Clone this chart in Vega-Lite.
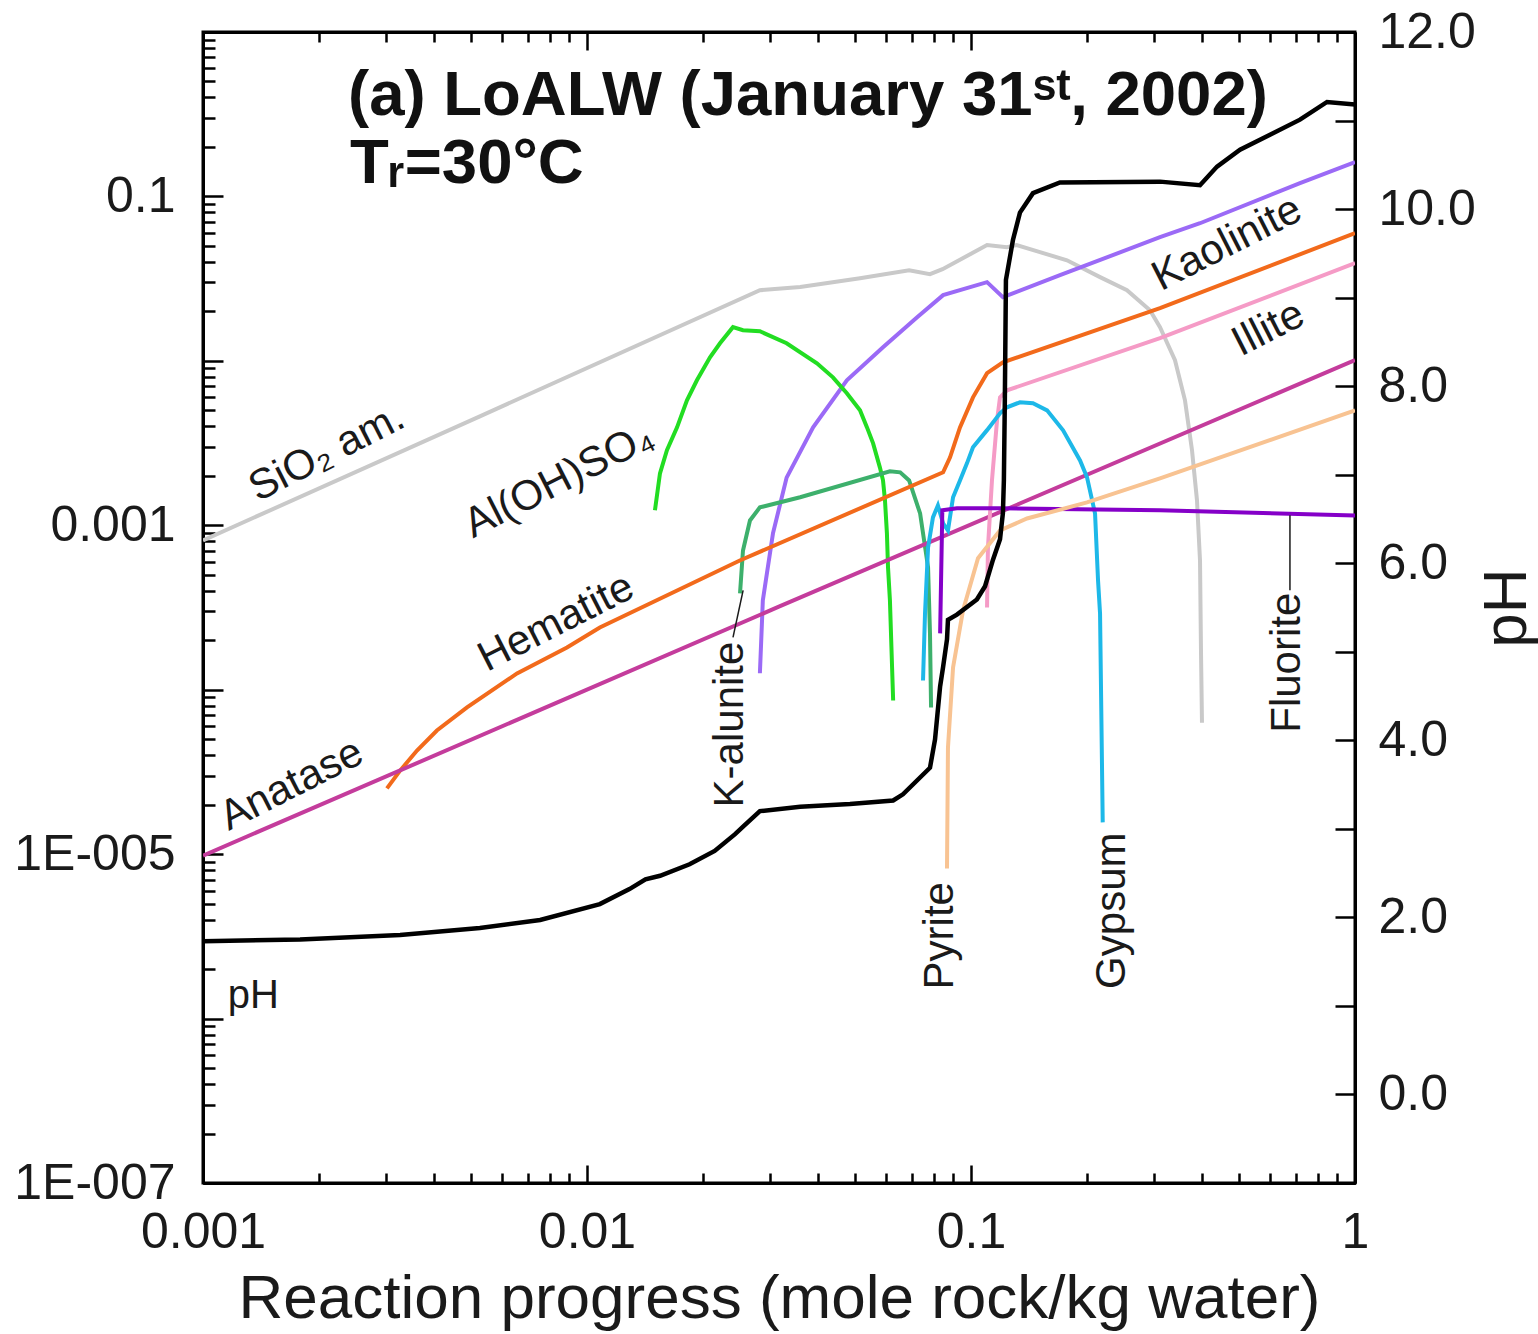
{
  "$schema": "https://vega.github.io/schema/vega-lite/v6.json",
  "width": 1152,
  "height": 1151,
  "autosize": {"type": "none"},
  "padding": {"left": 203, "top": 32, "right": 183, "bottom": 151},
  "background": "white",
  "config": {
    "view": {"stroke": "black", "strokeWidth": 3},
    "axis": {
      "grid": false,
      "domainColor": "black",
      "domainWidth": 3,
      "tickColor": "black",
      "tickWidth": 2.5,
      "labelFont": "Liberation Sans",
      "labelFontSize": 50,
      "labelColor": "#1a1a1a",
      "titleFont": "Liberation Sans",
      "titleFontSize": 62,
      "titleFontWeight": "normal",
      "titleColor": "#1a1a1a"
    },
    "text": {"font": "Liberation Sans", "color": "#1a1a1a"}
  },
  "datasets": {
    "minerals": [
      {"mineral": "SiO2 am.", "i": 0, "x": 0.001, "y": 0.000809},
      {"mineral": "SiO2 am.", "i": 1, "x": 0.00526, "y": 0.0046},
      {"mineral": "SiO2 am.", "i": 2, "x": 0.0282, "y": 0.0269},
      {"mineral": "SiO2 am.", "i": 3, "x": 0.0359, "y": 0.0281},
      {"mineral": "SiO2 am.", "i": 4, "x": 0.0514, "y": 0.0318},
      {"mineral": "SiO2 am.", "i": 5, "x": 0.069, "y": 0.0356},
      {"mineral": "SiO2 am.", "i": 6, "x": 0.0782, "y": 0.0337},
      {"mineral": "SiO2 am.", "i": 7, "x": 0.0843, "y": 0.0361},
      {"mineral": "SiO2 am.", "i": 8, "x": 0.1101, "y": 0.0506},
      {"mineral": "SiO2 am.", "i": 9, "x": 0.1241, "y": 0.0491},
      {"mineral": "SiO2 am.", "i": 10, "x": 0.1315, "y": 0.0506},
      {"mineral": "SiO2 am.", "i": 11, "x": 0.1512, "y": 0.0458},
      {"mineral": "SiO2 am.", "i": 12, "x": 0.1778, "y": 0.0409},
      {"mineral": "SiO2 am.", "i": 13, "x": 0.2168, "y": 0.0323},
      {"mineral": "SiO2 am.", "i": 14, "x": 0.2548, "y": 0.0269},
      {"mineral": "SiO2 am.", "i": 15, "x": 0.2925, "y": 0.0203},
      {"mineral": "SiO2 am.", "i": 16, "x": 0.3106, "y": 0.016},
      {"mineral": "SiO2 am.", "i": 17, "x": 0.3398, "y": 0.0101},
      {"mineral": "SiO2 am.", "i": 18, "x": 0.3608, "y": 0.00575},
      {"mineral": "SiO2 am.", "i": 19, "x": 0.3763, "y": 0.00286},
      {"mineral": "SiO2 am.", "i": 20, "x": 0.3877, "y": 0.00142},
      {"mineral": "SiO2 am.", "i": 21, "x": 0.3948, "y": 0.000611},
      {"mineral": "SiO2 am.", "i": 22, "x": 0.3971, "y": 0.000173},
      {"mineral": "SiO2 am.", "i": 23, "x": 0.3995, "y": 0.000063},

      {"mineral": "Kaolinite", "i": 0, "x": 0.0282, "y": 0.000126},
      {"mineral": "Kaolinite", "i": 1, "x": 0.0287, "y": 0.000349},
      {"mineral": "Kaolinite", "i": 2, "x": 0.0305, "y": 0.000893},
      {"mineral": "Kaolinite", "i": 3, "x": 0.0331, "y": 0.00195},
      {"mineral": "Kaolinite", "i": 4, "x": 0.0388, "y": 0.00394},
      {"mineral": "Kaolinite", "i": 5, "x": 0.0475, "y": 0.00762},
      {"mineral": "Kaolinite", "i": 6, "x": 0.059, "y": 0.0121},
      {"mineral": "Kaolinite", "i": 7, "x": 0.0724, "y": 0.0184},
      {"mineral": "Kaolinite", "i": 8, "x": 0.0846, "y": 0.0251},
      {"mineral": "Kaolinite", "i": 9, "x": 0.1101, "y": 0.0301},
      {"mineral": "Kaolinite", "i": 10, "x": 0.1211, "y": 0.0244},
      {"mineral": "Kaolinite", "i": 11, "x": 0.1705, "y": 0.0332},
      {"mineral": "Kaolinite", "i": 12, "x": 0.3106, "y": 0.0565},
      {"mineral": "Kaolinite", "i": 13, "x": 0.3948, "y": 0.0687},
      {"mineral": "Kaolinite", "i": 14, "x": 0.719, "y": 0.1205},
      {"mineral": "Kaolinite", "i": 15, "x": 1.0, "y": 0.1618},

      {"mineral": "Al(OH)SO4", "i": 0, "x": 0.01503, "y": 0.001233},
      {"mineral": "Al(OH)SO4", "i": 1, "x": 0.01549, "y": 0.00207},
      {"mineral": "Al(OH)SO4", "i": 2, "x": 0.01615, "y": 0.00286},
      {"mineral": "Al(OH)SO4", "i": 3, "x": 0.01716, "y": 0.00394},
      {"mineral": "Al(OH)SO4", "i": 4, "x": 0.01821, "y": 0.00575},
      {"mineral": "Al(OH)SO4", "i": 5, "x": 0.01933, "y": 0.00762},
      {"mineral": "Al(OH)SO4", "i": 6, "x": 0.02091, "y": 0.01052},
      {"mineral": "Al(OH)SO4", "i": 7, "x": 0.0222, "y": 0.0128},
      {"mineral": "Al(OH)SO4", "i": 8, "x": 0.02399, "y": 0.01603},
      {"mineral": "Al(OH)SO4", "i": 9, "x": 0.02548, "y": 0.01535},
      {"mineral": "Al(OH)SO4", "i": 10, "x": 0.0282, "y": 0.01514},
      {"mineral": "Al(OH)SO4", "i": 11, "x": 0.0331, "y": 0.01279},
      {"mineral": "Al(OH)SO4", "i": 12, "x": 0.0397, "y": 0.00966},
      {"mineral": "Al(OH)SO4", "i": 13, "x": 0.0437, "y": 0.00794},
      {"mineral": "Al(OH)SO4", "i": 14, "x": 0.0475, "y": 0.00635},
      {"mineral": "Al(OH)SO4", "i": 15, "x": 0.0514, "y": 0.005},
      {"mineral": "Al(OH)SO4", "i": 16, "x": 0.0536, "y": 0.00394},
      {"mineral": "Al(OH)SO4", "i": 17, "x": 0.0556, "y": 0.00315},
      {"mineral": "Al(OH)SO4", "i": 18, "x": 0.0579, "y": 0.00225},
      {"mineral": "Al(OH)SO4", "i": 19, "x": 0.059, "y": 0.001875},
      {"mineral": "Al(OH)SO4", "i": 20, "x": 0.0597, "y": 0.00142},
      {"mineral": "Al(OH)SO4", "i": 21, "x": 0.0604, "y": 0.000893},
      {"mineral": "Al(OH)SO4", "i": 22, "x": 0.0608, "y": 0.000555},
      {"mineral": "Al(OH)SO4", "i": 23, "x": 0.0615, "y": 0.000349},
      {"mineral": "Al(OH)SO4", "i": 24, "x": 0.0623, "y": 0.0001365},
      {"mineral": "Al(OH)SO4", "i": 25, "x": 0.0627, "y": 0.000086},

      {"mineral": "K-alunite", "i": 0, "x": 0.02503, "y": 0.000385},
      {"mineral": "K-alunite", "i": 1, "x": 0.02548, "y": 0.000703},
      {"mineral": "K-alunite", "i": 2, "x": 0.02657, "y": 0.00107},
      {"mineral": "K-alunite", "i": 3, "x": 0.0282, "y": 0.001285},
      {"mineral": "K-alunite", "i": 4, "x": 0.0359, "y": 0.00148},
      {"mineral": "K-alunite", "i": 5, "x": 0.0615, "y": 0.00213},
      {"mineral": "K-alunite", "i": 6, "x": 0.0654, "y": 0.0021},
      {"mineral": "K-alunite", "i": 7, "x": 0.069, "y": 0.001875},
      {"mineral": "K-alunite", "i": 8, "x": 0.0737, "y": 0.00118},
      {"mineral": "K-alunite", "i": 9, "x": 0.0773, "y": 0.000555},
      {"mineral": "K-alunite", "i": 10, "x": 0.0782, "y": 0.00022},
      {"mineral": "K-alunite", "i": 11, "x": 0.0787, "y": 0.000078},

      {"mineral": "Hematite", "i": 0, "x": 0.003013, "y": 0.0000251},
      {"mineral": "Hematite", "i": 1, "x": 0.00326, "y": 0.0000322},
      {"mineral": "Hematite", "i": 2, "x": 0.003608, "y": 0.0000427},
      {"mineral": "Hematite", "i": 3, "x": 0.004065, "y": 0.0000565},
      {"mineral": "Hematite", "i": 4, "x": 0.00487, "y": 0.000078},
      {"mineral": "Hematite", "i": 5, "x": 0.006572, "y": 0.0001256},
      {"mineral": "Hematite", "i": 6, "x": 0.008869, "y": 0.0001807},
      {"mineral": "Hematite", "i": 7, "x": 0.0108, "y": 0.000239},
      {"mineral": "Hematite", "i": 8, "x": 0.025, "y": 0.000611},
      {"mineral": "Hematite", "i": 9, "x": 0.0846, "y": 0.0021},
      {"mineral": "Hematite", "i": 10, "x": 0.0882, "y": 0.00259},
      {"mineral": "Hematite", "i": 11, "x": 0.0936, "y": 0.00394},
      {"mineral": "Hematite", "i": 12, "x": 0.1012, "y": 0.006},
      {"mineral": "Hematite", "i": 13, "x": 0.1101, "y": 0.00841},
      {"mineral": "Hematite", "i": 14, "x": 0.1211, "y": 0.00979},
      {"mineral": "Hematite", "i": 15, "x": 0.3106, "y": 0.0209},
      {"mineral": "Hematite", "i": 16, "x": 1.0, "y": 0.0598},

      {"mineral": "Anatase", "i": 0, "x": 0.001, "y": 0.0000098},
      {"mineral": "Anatase", "i": 1, "x": 0.0316, "y": 0.00032},
      {"mineral": "Anatase", "i": 2, "x": 1.0, "y": 0.0101},

      {"mineral": "Illite", "i": 0, "x": 0.1101, "y": 0.000316},
      {"mineral": "Illite", "i": 1, "x": 0.1107, "y": 0.000733},
      {"mineral": "Illite", "i": 2, "x": 0.1134, "y": 0.001875},
      {"mineral": "Illite", "i": 3, "x": 0.1169, "y": 0.00435},
      {"mineral": "Illite", "i": 4, "x": 0.119, "y": 0.006},
      {"mineral": "Illite", "i": 5, "x": 0.1241, "y": 0.00662},
      {"mineral": "Illite", "i": 6, "x": 0.3106, "y": 0.01374},
      {"mineral": "Illite", "i": 7, "x": 1.0, "y": 0.0393},

      {"mineral": "Gypsum", "i": 0, "x": 0.075, "y": 0.0001138},
      {"mineral": "Gypsum", "i": 1, "x": 0.0759, "y": 0.000291},
      {"mineral": "Gypsum", "i": 2, "x": 0.0773, "y": 0.000733},
      {"mineral": "Gypsum", "i": 3, "x": 0.0796, "y": 0.001117},
      {"mineral": "Gypsum", "i": 4, "x": 0.082, "y": 0.001321},
      {"mineral": "Gypsum", "i": 5, "x": 0.0846, "y": 0.001028},
      {"mineral": "Gypsum", "i": 6, "x": 0.0871, "y": 0.000931},
      {"mineral": "Gypsum", "i": 7, "x": 0.0898, "y": 0.00148},
      {"mineral": "Gypsum", "i": 8, "x": 0.0936, "y": 0.001875},
      {"mineral": "Gypsum", "i": 9, "x": 0.0976, "y": 0.00238},
      {"mineral": "Gypsum", "i": 10, "x": 0.1012, "y": 0.00298},
      {"mineral": "Gypsum", "i": 11, "x": 0.1101, "y": 0.00379},
      {"mineral": "Gypsum", "i": 12, "x": 0.119, "y": 0.0048},
      {"mineral": "Gypsum", "i": 13, "x": 0.1241, "y": 0.00522},
      {"mineral": "Gypsum", "i": 14, "x": 0.1341, "y": 0.0056},
      {"mineral": "Gypsum", "i": 15, "x": 0.145, "y": 0.00552},
      {"mineral": "Gypsum", "i": 16, "x": 0.1578, "y": 0.005},
      {"mineral": "Gypsum", "i": 17, "x": 0.1737, "y": 0.00378},
      {"mineral": "Gypsum", "i": 18, "x": 0.1923, "y": 0.00248},
      {"mineral": "Gypsum", "i": 19, "x": 0.2005, "y": 0.00196},
      {"mineral": "Gypsum", "i": 20, "x": 0.2104, "y": 0.00118},
      {"mineral": "Gypsum", "i": 21, "x": 0.2142, "y": 0.000462},
      {"mineral": "Gypsum", "i": 22, "x": 0.2168, "y": 0.000291},
      {"mineral": "Gypsum", "i": 23, "x": 0.2203, "y": 0.0000156},

      {"mineral": "Fluorite", "i": 0, "x": 0.0831, "y": 0.00022},
      {"mineral": "Fluorite", "i": 1, "x": 0.0842, "y": 0.001233},
      {"mineral": "Fluorite", "i": 2, "x": 0.0919, "y": 0.001268},
      {"mineral": "Fluorite", "i": 3, "x": 0.119, "y": 0.001268},
      {"mineral": "Fluorite", "i": 4, "x": 0.3106, "y": 0.001233},
      {"mineral": "Fluorite", "i": 5, "x": 1.0, "y": 0.001148},

      {"mineral": "Pyrite", "i": 0, "x": 0.0866, "y": 0.00000817},
      {"mineral": "Pyrite", "i": 1, "x": 0.0871, "y": 0.0000445},
      {"mineral": "Pyrite", "i": 2, "x": 0.0898, "y": 0.0001365},
      {"mineral": "Pyrite", "i": 3, "x": 0.0953, "y": 0.000303},
      {"mineral": "Pyrite", "i": 4, "x": 0.1043, "y": 0.00063},
      {"mineral": "Pyrite", "i": 5, "x": 0.119, "y": 0.000931},
      {"mineral": "Pyrite", "i": 6, "x": 0.1399, "y": 0.0011},
      {"mineral": "Pyrite", "i": 7, "x": 0.2005, "y": 0.001377},
      {"mineral": "Pyrite", "i": 8, "x": 0.3106, "y": 0.001928},
      {"mineral": "Pyrite", "i": 9, "x": 1.0, "y": 0.005}
    ],
    "ph": [
      {"i": 0, "x": 0.001, "pH": 1.73},
      {"i": 1, "x": 0.00179, "pH": 1.75},
      {"i": 2, "x": 0.00326, "pH": 1.8},
      {"i": 3, "x": 0.00526, "pH": 1.88},
      {"i": 4, "x": 0.00755, "pH": 1.97},
      {"i": 5, "x": 0.0108, "pH": 2.15},
      {"i": 6, "x": 0.0129, "pH": 2.32},
      {"i": 7, "x": 0.0142, "pH": 2.43},
      {"i": 8, "x": 0.0155, "pH": 2.47},
      {"i": 9, "x": 0.0185, "pH": 2.6},
      {"i": 10, "x": 0.0215, "pH": 2.75},
      {"i": 11, "x": 0.0243, "pH": 2.94},
      {"i": 12, "x": 0.0257, "pH": 3.04},
      {"i": 13, "x": 0.0282, "pH": 3.2},
      {"i": 14, "x": 0.0359, "pH": 3.25},
      {"i": 15, "x": 0.0484, "pH": 3.28},
      {"i": 16, "x": 0.0627, "pH": 3.32},
      {"i": 17, "x": 0.0665, "pH": 3.39},
      {"i": 18, "x": 0.0782, "pH": 3.69},
      {"i": 19, "x": 0.0806, "pH": 4.01},
      {"i": 20, "x": 0.0831, "pH": 4.61},
      {"i": 21, "x": 0.0846, "pH": 4.83},
      {"i": 22, "x": 0.0866, "pH": 5.14},
      {"i": 23, "x": 0.0871, "pH": 5.36},
      {"i": 24, "x": 0.0919, "pH": 5.42},
      {"i": 25, "x": 0.1036, "pH": 5.59},
      {"i": 26, "x": 0.1088, "pH": 5.74},
      {"i": 27, "x": 0.1141, "pH": 6.04},
      {"i": 28, "x": 0.119, "pH": 6.27},
      {"i": 29, "x": 0.1211, "pH": 6.57},
      {"i": 30, "x": 0.1218, "pH": 6.94},
      {"i": 31, "x": 0.1225, "pH": 7.85},
      {"i": 32, "x": 0.1233, "pH": 9.2},
      {"i": 33, "x": 0.1286, "pH": 9.65},
      {"i": 34, "x": 0.1341, "pH": 9.96},
      {"i": 35, "x": 0.145, "pH": 10.18},
      {"i": 36, "x": 0.1705, "pH": 10.3},
      {"i": 37, "x": 0.3106, "pH": 10.31},
      {"i": 38, "x": 0.3948, "pH": 10.27},
      {"i": 39, "x": 0.4372, "pH": 10.48},
      {"i": 40, "x": 0.5019, "pH": 10.67},
      {"i": 41, "x": 0.719, "pH": 11.01},
      {"i": 42, "x": 0.8455, "pH": 11.21},
      {"i": 43, "x": 1.0, "pH": 11.18}
    ],
    "slopedLabels": [
      {"label": "SiO₂ am.", "x": 0.0021, "y": 0.00278},
      {"label": "Al(OH)SO₄", "x": 0.00845, "y": 0.00188},
      {"label": "Hematite", "x": 0.0083, "y": 0.000257},
      {"label": "Anatase", "x": 0.0017, "y": 0.0000265},
      {"label": "Kaolinite", "x": 0.464, "y": 0.052},
      {"label": "Illite", "x": 0.594, "y": 0.0158}
    ],
    "verticalLabels": [
      {"label": "K-alunite", "x": 0.0236, "y": 0.0000614},
      {"label": "Pyrite", "x": 0.0831, "y": 0.00000319},
      {"label": "Gypsum", "x": 0.233, "y": 0.00000453},
      {"label": "Fluorite", "x": 0.665, "y": 0.000146}
    ],
    "leaders": [
      {"x": 0.024, "y": 0.000208, "x2": 0.0255, "y2": 0.000402},
      {"x": 0.677, "y": 0.000402, "x2": 0.677, "y2": 0.00115}
    ],
    "heading": [
      {"label": "(a) LoALW (January 31ˢᵗ, 2002)", "x": 0.002386, "y": 0.3126},
      {"label": "Tᵣ=30°C", "x": 0.002414, "y": 0.1205}
    ],
    "phTag": [
      {"label": "pH", "x": 0.00116, "y": 0.00000138}
    ]
  },
  "layer": [
    {
      "data": {"name": "minerals"},
      "mark": {"type": "line", "strokeWidth": 4, "clip": true},
      "encoding": {
        "x": {
          "field": "x", "type": "quantitative",
          "scale": {"type": "log", "domain": [0.001, 1], "nice": false},
          "axis": {
            "orient": "bottom", "values": [0.001, 0.01, 0.1, 1], "format": "~g",
            "tickSize": -18, "labelFlush": false, "labelOverlap": false, "labelPadding": 42,
            "title": "Reaction progress (mole rock/kg water)", "titlePadding": 11
          }
        },
        "y": {
          "field": "y", "type": "quantitative",
          "scale": {"type": "log", "domain": [1e-7, 1], "nice": false},
          "axis": {
            "orient": "left",
            "values": [1e-7, 1e-6, 1e-5, 1e-4, 0.001, 0.01, 0.1, 1],
            "labelExpr": "datum.value > 0.05 && datum.value < 0.5 ? '0.1' : datum.value > 0.0005 && datum.value < 0.005 ? '0.001' : datum.value > 0.000005 && datum.value < 0.00005 ? '1E-005' : datum.value < 0.0000005 ? '1E-007' : ''",
            "tickSize": -20, "labelPadding": 48, "labelOverlap": false, "title": null
          }
        },
        "color": {
          "field": "mineral", "type": "nominal",
          "scale": {
            "domain": ["SiO2 am.", "Kaolinite", "Al(OH)SO4", "K-alunite", "Hematite", "Anatase", "Illite", "Gypsum", "Fluorite", "Pyrite"],
            "range": ["#C9C9C9", "#9B6AF6", "#22DD22", "#3DB06C", "#F26A1B", "#C43C9C", "#F59BC6", "#1DB8E8", "#8500C8", "#F8C392"]
          },
          "legend": null
        },
        "order": {"field": "i", "type": "quantitative"}
      }
    },
    {
      "data": {"name": "ph"},
      "mark": {"type": "line", "strokeWidth": 4.5, "color": "black", "clip": true},
      "encoding": {
        "x": {
          "field": "x", "type": "quantitative",
          "scale": {"type": "log", "domain": [0.001, 1], "nice": false},
          "axis": {"orient": "top", "values": [0.001, 0.01, 0.1, 1], "labels": false, "tickSize": -18, "title": null}
        },
        "y": {
          "field": "pH", "type": "quantitative",
          "scale": {"domain": [-1, 12], "nice": false, "zero": false},
          "axis": {
            "orient": "right",
            "values": [-1, 0, 1, 2, 3, 4, 5, 6, 7, 8, 9, 10, 11, 12],
            "labelExpr": "datum.value >= 0 && datum.value % 2 == 0 ? format(datum.value, '.1f') : ''",
            "tickSize": -20, "labelPadding": 43, "labelOverlap": false,
            "title": "pH", "titleAngle": 270, "titlePadding": 63
          }
        },
        "order": {"field": "i", "type": "quantitative"}
      }
    },
    {
      "data": {"name": "slopedLabels"},
      "mark": {"type": "text", "fontSize": 42, "angle": -27, "align": "center", "baseline": "middle"},
      "encoding": {
        "x": {
          "field": "x", "type": "quantitative",
          "scale": {"type": "log", "domain": [0.001, 1], "nice": false},
          "axis": {
            "orient": "top",
            "values": [0.002, 0.003, 0.004, 0.005, 0.006, 0.007, 0.008, 0.009, 0.02, 0.03, 0.04, 0.05, 0.06, 0.07, 0.08, 0.09, 0.2, 0.3, 0.4, 0.5, 0.6, 0.7, 0.8, 0.9],
            "labels": false, "tickSize": -10, "title": null
          }
        },
        "y": {
          "field": "y", "type": "quantitative",
          "scale": {"type": "log", "domain": [1e-7, 1], "nice": false},
          "axis": {
            "orient": "left",
            "values": [2e-7, 3e-7, 4e-7, 5e-7, 6e-7, 7e-7, 8e-7, 9e-7,
                       2e-6, 3e-6, 4e-6, 5e-6, 6e-6, 7e-6, 8e-6, 9e-6,
                       2e-5, 3e-5, 4e-5, 5e-5, 6e-5, 7e-5, 8e-5, 9e-5,
                       2e-4, 3e-4, 4e-4, 5e-4, 6e-4, 7e-4, 8e-4, 9e-4,
                       0.002, 0.003, 0.004, 0.005, 0.006, 0.007, 0.008, 0.009,
                       0.02, 0.03, 0.04, 0.05, 0.06, 0.07, 0.08, 0.09,
                       0.2, 0.3, 0.4, 0.5, 0.6, 0.7, 0.8, 0.9],
            "labels": false, "tickSize": -12, "title": null
          }
        },
        "text": {"field": "label"}
      }
    },
    {
      "data": {"name": "verticalLabels"},
      "mark": {"type": "text", "fontSize": 42, "angle": 270, "align": "center", "baseline": "middle"},
      "encoding": {
        "x": {
          "field": "x", "type": "quantitative",
          "scale": {"type": "log", "domain": [0.001, 1], "nice": false},
          "axis": {
            "orient": "bottom",
            "values": [0.002, 0.003, 0.004, 0.005, 0.006, 0.007, 0.008, 0.009, 0.02, 0.03, 0.04, 0.05, 0.06, 0.07, 0.08, 0.09, 0.2, 0.3, 0.4, 0.5, 0.6, 0.7, 0.8, 0.9],
            "labels": false, "tickSize": -10, "title": null
          }
        },
        "y": {
          "field": "y", "type": "quantitative",
          "scale": {"type": "log", "domain": [1e-7, 1], "nice": false},
          "axis": null
        },
        "text": {"field": "label"}
      }
    },
    {
      "data": {"name": "leaders"},
      "mark": {"type": "rule", "strokeWidth": 1.5, "color": "#1a1a1a"},
      "encoding": {
        "x": {"field": "x", "type": "quantitative", "scale": {"type": "log", "domain": [0.001, 1], "nice": false}, "axis": null},
        "y": {"field": "y", "type": "quantitative", "scale": {"type": "log", "domain": [1e-7, 1], "nice": false}, "axis": null},
        "x2": {"field": "x2"},
        "y2": {"field": "y2"}
      }
    },
    {
      "data": {"name": "heading"},
      "mark": {"type": "text", "fontSize": 63.5, "fontWeight": "bold", "align": "left", "baseline": "alphabetic", "color": "#111"},
      "encoding": {
        "x": {"field": "x", "type": "quantitative", "scale": {"type": "log", "domain": [0.001, 1], "nice": false}, "axis": null},
        "y": {"field": "y", "type": "quantitative", "scale": {"type": "log", "domain": [1e-7, 1], "nice": false}, "axis": null},
        "text": {"field": "label"}
      }
    },
    {
      "data": {"name": "phTag"},
      "mark": {"type": "text", "fontSize": 40, "align": "left", "baseline": "middle"},
      "encoding": {
        "x": {"field": "x", "type": "quantitative", "scale": {"type": "log", "domain": [0.001, 1], "nice": false}, "axis": null},
        "y": {"field": "y", "type": "quantitative", "scale": {"type": "log", "domain": [1e-7, 1], "nice": false}, "axis": null},
        "text": {"field": "label"}
      }
    }
  ],
  "resolve": {
    "scale": {"x": "independent", "y": "independent"},
    "axis": {"x": "independent", "y": "independent"}
  }
}
